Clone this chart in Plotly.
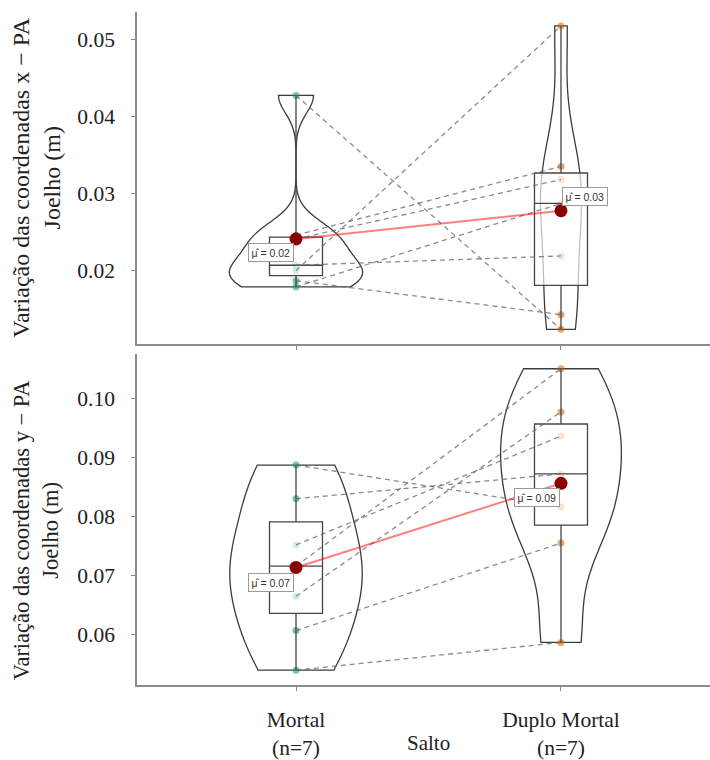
import numpy as np
import plotly.graph_objects as go

# ---- data -------------------------------------------------------------
groups = ["Mortal", "Duplo Mortal"]
tick_text = ["Mortal<br>(n=7)", "Duplo Mortal<br>(n=7)"]
x_title = "Salto"
y_titles = [
    "Variação das coordenadas x − PA<br>Joelho (m)",
    "Variação das coordenadas y − PA<br>Joelho (m)",
]

# paired observations (same athlete at the same index)
x_mortal = [0.0427, 0.0246, 0.0241, 0.0207, 0.0200, 0.0187, 0.0179]
x_duplo = [0.0124, 0.0335, 0.0318, 0.0219, 0.0517, 0.0143, 0.0287]

y_mortal = [0.0887, 0.0830, 0.0752, 0.0716, 0.0665, 0.0607, 0.0540]
y_duplo = [0.0816, 0.0872, 0.0936, 0.1050, 0.0977, 0.0755, 0.0587]

# ---- styling ----------------------------------------------------------
point_colors = ["rgba(27,158,119,0.6)", "rgba(217,95,2,0.55)"]
axis_color = "#8a8a8a"
serif = "Liberation Serif, Times New Roman, serif"
violin_max_width = 0.5


def nrd0(v):
    """Silverman bandwidth as used by R's density() default."""
    v = np.asarray(v, dtype=float)
    sd = v.std(ddof=1)
    q75, q25 = np.percentile(v, [75, 25])
    lo = min(sd, (q75 - q25) / 1.34)
    return 0.9 * lo * len(v) ** -0.2


def kde_peak(v, bw):
    """Highest value of the Gaussian density over the data range."""
    v = np.asarray(v, dtype=float)
    grid = np.linspace(v.min(), v.max(), 512)
    z = (grid[:, None] - v[None, :]) / bw
    dens = np.exp(-0.5 * z ** 2).sum(axis=1) / (len(v) * bw * np.sqrt(2 * np.pi))
    return dens.max()


panels = [
    dict(vals=[x_mortal, x_duplo], xa="x", ya="y", grp="top",
         label_shift=[(-25, -14), (24, 14)]),
    dict(vals=[y_mortal, y_duplo], xa="x2", ya="y2", grp="bottom",
         label_shift=[(-25, -15), (-24, -14)]),
]

fig = go.Figure()
annotations = []

for p in panels:
    xa, ya = p["xa"], p["ya"]
    positions = list(range(len(groups)))
    bws = [nrd0(v) for v in p["vals"]]
    # equal-area violins: the densest group gets the full width
    peaks = [kde_peak(v, bw) for v, bw in zip(p["vals"], bws)]
    widths = [violin_max_width * pk / max(peaks) for pk in peaks]
    # violins with the raw points
    for pos, vals, col, bw, w in zip(positions, p["vals"], point_colors,
                                     bws, widths):
        fig.add_trace(go.Violin(
            x=[pos] * len(vals), y=vals, xaxis=xa, yaxis=ya,
            width=w, scalegroup=f"{p['grp']}{pos}", scalemode="width",
            spanmode="hard", bandwidth=bw,
            line=dict(color="#3c3c3c", width=1.3),
            fillcolor="rgba(255,255,255,0)",
            points="all", pointpos=0, jitter=0,
            marker=dict(color=col, size=7, line=dict(width=0)),
            box_visible=False, meanline_visible=False,
            showlegend=False, hoverinfo="skip",
        ))
    # boxplots on top of the points
    for pos, vals in zip(positions, p["vals"]):
        fig.add_trace(go.Box(
            x=[pos] * len(vals), y=vals, xaxis=xa, yaxis=ya,
            width=0.2, boxpoints=False, whiskerwidth=0,
            quartilemethod="inclusive",
            line=dict(color="#454545", width=1.3),
            fillcolor="rgba(255,255,255,0.68)",
            showlegend=False, hoverinfo="skip",
        ))
    # dashed lines joining the paired observations
    a, b = p["vals"]
    px, py = [], []
    for va, vb in zip(a, b):
        px += [positions[0], positions[1], None]
        py += [va, vb, None]
    fig.add_trace(go.Scatter(
        x=px, y=py, xaxis=xa, yaxis=ya, mode="lines",
        line=dict(color="rgba(100,100,100,0.75)", width=1.3, dash="5px,4px"),
        showlegend=False, hoverinfo="skip",
    ))
    # group means
    means = [float(np.mean(v)) for v in p["vals"]]
    fig.add_trace(go.Scatter(
        x=positions, y=means, xaxis=xa, yaxis=ya, mode="lines",
        line=dict(color="rgba(255,0,0,0.5)", width=2),
        showlegend=False, hoverinfo="skip",
    ))
    fig.add_trace(go.Scatter(
        x=positions, y=means, xaxis=xa, yaxis=ya, mode="markers",
        marker=dict(color="#8b0000", size=13),
        showlegend=False, hoverinfo="skip",
    ))
    for pos, m, (dx, dy) in zip(positions, means, p["label_shift"]):
        annotations.append(dict(
            x=pos, y=m, xref=xa, yref=ya, showarrow=False,
            text=f"μ̂ = {m:.2f}", xshift=dx, yshift=dy,
            font=dict(family="Liberation Sans, DejaVu Sans, sans-serif",
                      size=10.5, color="#333333"),
            bgcolor="white", bordercolor="#9a9a9a", borderwidth=1,
            borderpad=2.5,
        ))

# axis titles
annotations += [
    dict(text=y_titles[0], xref="paper", yref="paper", x=-0.176, y=0.754,
         textangle=-90, showarrow=False, xanchor="center", yanchor="middle",
         font=dict(family=serif, size=24, color="#222222")),
    dict(text=y_titles[1], xref="paper", yref="paper", x=-0.176, y=0.230,
         textangle=-90, showarrow=False, xanchor="center", yanchor="middle",
         font=dict(family=serif, size=22.5, color="#222222")),
    dict(text=x_title, xref="paper", yref="paper", x=0.508, y=-0.1065,
         showarrow=False, xanchor="center", yanchor="bottom",
         font=dict(family=serif, size=21, color="#222222")),
]

x_common = dict(
    range=[-0.6, 1.5623], tickvals=[0, 1], showline=True,
    linecolor=axis_color, linewidth=1.6, ticks="outside", ticklen=4,
    tickcolor=axis_color, showgrid=False, zeroline=False,
)
y_common = dict(
    dtick=0.01, tickformat=".2f", showline=True, linecolor=axis_color,
    linewidth=1.6, ticks="outside", ticklen=4, tickcolor=axis_color,
    showgrid=False, zeroline=False, ticklabelstandoff=12,
    tickfont=dict(size=21.5),
)

fig.update_layout(
    width=710, height=760,
    margin=dict(l=137, r=0, t=12, b=73),
    paper_bgcolor="white", plot_bgcolor="white",
    font=dict(family=serif, size=21.5, color="#222222"),
    boxmode="overlay", violinmode="overlay",
    xaxis=dict(x_common, domain=[0, 1], anchor="y", ticktext=["", ""]),
    xaxis2=dict(x_common, domain=[0, 1], anchor="y2", ticktext=tick_text,
                ticklabelstandoff=10),
    yaxis=dict(y_common, domain=[0.5067, 1.0], anchor="x",
               range=[0.0105, 0.0535]),
    yaxis2=dict(y_common, domain=[0.0, 0.4919], anchor="x2",
                range=[0.0515, 0.1075]),
    annotations=annotations,
    showlegend=False,
)

fig.write_html("out.html")
